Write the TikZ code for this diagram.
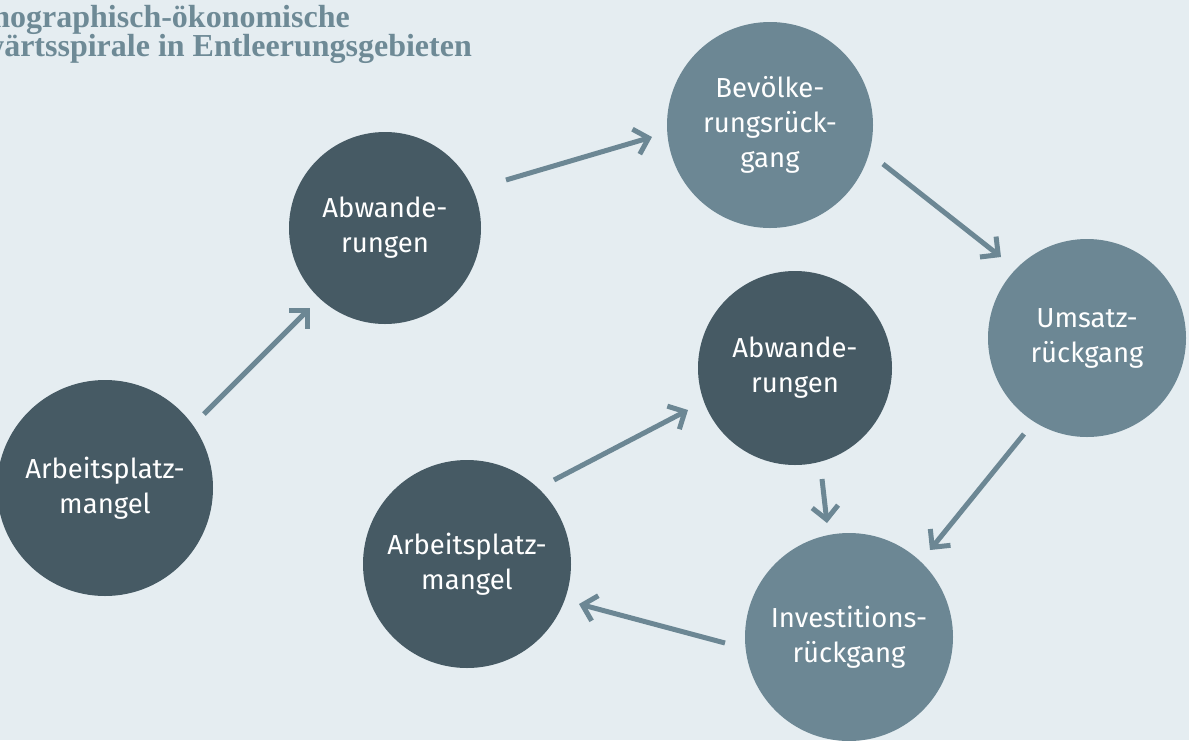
\documentclass[tikz,border=0pt]{standalone}
\usepackage{fontspec}
\setmainfont{Fira Sans}
\newfontfamily\titlefont{Liberation Serif}
\usetikzlibrary{arrows.meta,calc}
\definecolor{bgc}{HTML}{E5EDF1}
\definecolor{darkc}{HTML}{465A64}
\definecolor{lightc}{HTML}{6C8794}
\definecolor{titlec}{HTML}{6E8A96}
\begin{document}
\begin{tikzpicture}[x=1pt,y=-1pt,
  circ/.style={circle,inner sep=0pt,text=white,align=center,
    font=\fontsize{27.5}{35}\selectfont},
  dk/.style={circ,fill=darkc},
  lt/.style={circ,fill=lightc},
  arr/.style={draw=lightc,line width=5pt,line join=miter,
    -{Straight Barb[length=13pt,width=26pt,line join=miter]}},
  ttl/.style={inner sep=0pt,anchor=base east,text=titlec,
    font=\titlefont\bfseries\fontsize{32}{29}\selectfont}]
\fill[bgc] (0,0) rectangle (1189,740);
\useasboundingbox (0,0) rectangle (1189,740);
\clip (0,0) rectangle (1189,740);
\node[ttl] (t1) at (350,27) {Demographisch-ökonomische};
\node[ttl] (t2) at (472,56) {Abwärtsspirale in Entleerungsgebieten};
\node[dk,minimum size=216pt] (arb1) at (105,488) {Arbeitsplatz-\\mangel};
\node[dk,minimum size=192pt] (abw1) at (385,228) {Abwande-\\rungen};
\node[lt,minimum size=206pt] (bev) at (770,125) {Bevölke-\\rungsrück-\\gang};
\node[lt,minimum size=198pt] (ums) at (1087,338) {Umsatz-\\rückgang};
\node[dk,minimum size=194pt] (abw2) at (795,368) {Abwande-\\rungen};
\node[dk,minimum size=208pt] (arb2) at (467,564) {Arbeitsplatz-\\mangel};
\node[lt,minimum size=208pt] (inv) at (849,637) {Investitions-\\rückgang};
\draw[arr] ($(arb1)+(99,-74)$) -- ($(abw1)+(-75,80)$);
\draw[arr] ($(abw1)+(121,-48)$) -- ($(bev)+(-118,12)$);
\draw[arr] ($(bev)+(113,39)$) -- ($(ums)+(-86,-81)$);
\draw[arr] ($(ums)+(-63,96)$) -- ($(inv)+(81,-87)$);
\draw[arr] ($(abw2)+(27,111)$) -- ($(inv)+(-22,-114)$);
\draw[arr] ($(inv)+(-124,6)$) -- ($(arb2)+(112,40)$);
\draw[arr] ($(arb2)+(87,-84)$) -- ($(abw2)+(-107,42)$);
\end{tikzpicture}
\end{document}
